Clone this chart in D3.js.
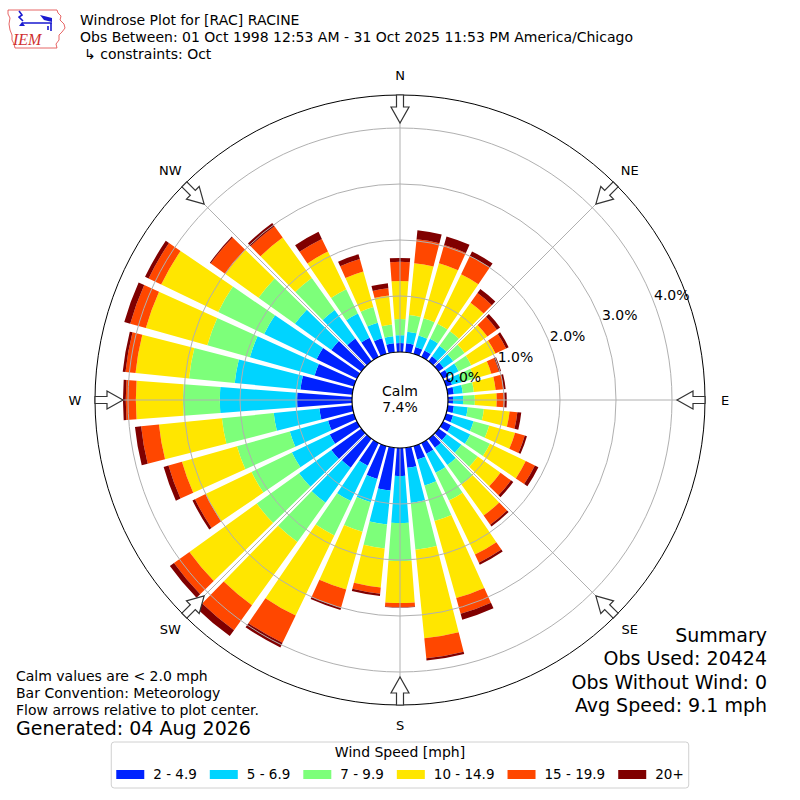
<!DOCTYPE html>
<html lang="en">
<head>
<meta charset="UTF-8">
<title>Windrose Plot for [RAC] RACINE</title>
<style>
  body { margin: 0; background: #fff; }
  svg { display: block; font-family: "DejaVu Sans", sans-serif; }
</style>
</head>
<body>
<script src="https://cdn.jsdelivr.net/npm/d3@7"></script>
<script>
// direction the wind blows from, degrees
const directions = [0, 10, 20, 30, 40, 50, 60, 70, 80, 90, 100, 110,
                    120, 130, 140, 150, 160, 170, 180, 190, 200, 210, 220, 230,
                    240, 250, 260, 270, 280, 290, 300, 310, 320, 330, 340, 350];

const speedBins = ["2 - 4.9", "5 - 6.9", "7 - 9.9", "10 - 14.9", "15 - 19.9", "20+"];
const binColors = ["#0022ff", "#00d4ff", "#7dff7a", "#ffe600", "#ff4700", "#800000"];

// percent of observations, one value per direction
const pct_2_5 = [0.16, 0.16, 0.13, 0.13, 0.11, 0.11, 0.11, 0.11, 0.11, 0.09, 0.11, 0.13,
                 0.16, 0.18, 0.20, 0.21, 0.25, 0.36, 0.50, 0.77, 0.61, 0.45, 0.64, 0.66,
                 0.54, 0.48, 0.59, 0.98, 0.93, 0.73, 0.80, 0.66, 0.50, 0.38, 0.29, 0.16];
const pct_5_7 = [0.14, 0.21, 0.21, 0.23, 0.23, 0.21, 0.20, 0.18, 0.16, 0.18, 0.25, 0.38,
                 0.38, 0.32, 0.38, 0.38, 0.48, 0.63, 0.84, 0.61, 0.43, 0.70, 0.77, 0.71,
                 0.75, 0.71, 0.82, 1.38, 1.18, 1.20, 1.04, 0.80, 0.63, 0.48, 0.29, 0.13];
const pct_7_10 = [0.29, 0.30, 0.32, 0.30, 0.32, 0.25, 0.25, 0.23, 0.20, 0.21, 0.29, 0.29,
                  0.39, 0.36, 0.43, 0.55, 0.66, 0.84, 0.68, 0.43, 0.55, 0.68, 0.86, 0.93,
                  0.80, 0.98, 0.93, 0.66, 0.82, 0.79, 0.91, 0.80, 0.70, 0.48, 0.29, 0.21];
const pct_10_15 = [0.68, 0.93, 1.02, 0.98, 0.63, 0.50, 0.48, 0.32, 0.39, 0.39, 0.46, 0.48,
                   0.71, 0.50, 0.68, 1.07, 1.43, 1.59, 0.75, 0.70, 1.07, 1.59, 1.39, 1.48,
                   0.91, 1.02, 1.13, 0.84, 0.96, 1.14, 1.13, 0.73, 0.89, 0.75, 0.66, 0.52];
const pct_15_20 = [0.34, 0.43, 0.34, 0.36, 0.21, 0.21, 0.21, 0.14, 0.14, 0.14, 0.14, 0.18,
                   0.18, 0.23, 0.20, 0.16, 0.29, 0.36, 0.07, 0.11, 0.34, 0.54, 0.55, 0.34,
                   0.21, 0.25, 0.32, 0.18, 0.18, 0.29, 0.25, 0.32, 0.25, 0.25, 0.23, 0.13];
const pct_20_up = [0.07, 0.16, 0.16, 0.09, 0.09, 0.07, 0.05, 0.04, 0.04, 0.04, 0.07, 0.04,
                   0.07, 0.05, 0.04, 0.04, 0.11, 0.04, 0.01, 0.04, 0.04, 0.09, 0.13, 0.09,
                   0.05, 0.09, 0.11, 0.05, 0.05, 0.11, 0.07, 0.02, 0.07, 0.14, 0.09, 0.09];
const speedSeries = [pct_2_5, pct_5_7, pct_7_10, pct_10_15, pct_15_20, pct_20_up];

const ringTicks = [0, 1, 2, 3, 4];
const compass = [["N", 0], ["NE", 45], ["E", 90], ["SE", 135],
                 ["S", 180], ["SW", 225], ["W", 270], ["NW", 315]];

const calmPct = "7.4%";
const titleLines = ["Windrose Plot for [RAC] RACINE",
                    "Obs Between: 01 Oct 1998 12:53 AM - 31 Oct 2025 11:53 PM America/Chicago",
                    "\u21b3 constraints: Oct"];
const summaryLines = ["Summary", "Obs Used: 20424", "Obs Without Wind: 0", "Avg Speed: 9.1 mph"];
const noteLines = ["Calm values are < 2.0 mph", "Bar Convention: Meteorology",
                   "Flow arrows relative to plot center."];
const generated = "Generated: 04 Aug 2026";

const width = 800, height = 800;
const cx = 400, cy = 400;
const holeR = 48, outerR = 305;
const halfWidth = 4.3;

const r = d3.scaleLinear().domain([0, 4]).range([holeR, 272]);
const angle = d3.scaleLinear().domain([0, 360]).range([0, 2 * Math.PI]);

const rows = directions.map((dir, i) => {
    const row = {dir};
    speedBins.forEach((b, k) => row[b] = speedSeries[k][i]);
    return row;
});
const series = d3.stack().keys(speedBins)(rows);

const svg = d3.select("body")
    .append("svg")
    .attr("width", width)
    .attr("height", height)
    .attr("viewBox", [0, 0, width, height]);

// --- header with logo ---
const logo = svg.append("g").attr("fill", "none");
logo.append("path")
    .attr("d", "M8,10 L57,10 L58,13 L61,16 L60,20 L64,24 L65,28 L62,32 L59,35 L59,40 L56,44 L57,48 L15,48 L14,44 L12,40 L12,35 L10,30 L9,24 L10,18 L8,14 Z")
    .attr("stroke", "#e04040").attr("stroke-width", 0.8);
logo.append("path")
    .attr("d", "M19,11 L22,15 L19,17 L23,21 M22,23 H52 M51,23 V31 M48,26 V30")
    .attr("stroke", "#1a1ad0").attr("stroke-width", 1.6);
logo.append("path")
    .attr("d", "M40,15 L52,18 L52,22 L44,20 Z M19,26 L22,22 L25,26 Z")
    .attr("fill", "#1a1ad0");
logo.append("text")
    .attr("x", 13).attr("y", 45)
    .attr("fill", "#d03030")
    .style("font", "italic 16px 'Liberation Serif', serif")
    .text("IEM");

svg.append("g")
    .style("font-size", "14px")
    .selectAll("text")
    .data(titleLines)
    .join("text")
    .attr("x", (d, i) => i === 2 ? 84 : 80)
    .attr("y", (d, i) => 25 + i * 17)
    .text(d => d);

// --- rose ---
const plot = svg.append("g").attr("transform", `translate(${cx},${cy})`);

const arc = d3.arc()
    .innerRadius(d => r(d[0]))
    .outerRadius(d => r(d[1]))
    .startAngle(d => angle(d.data.dir - halfWidth))
    .endAngle(d => angle(d.data.dir + halfWidth))
    .padAngle(0.01)
    .padRadius(100);

plot.append("g")
    .selectAll("g")
    .data(series)
    .join("g")
    .attr("fill", (d, i) => binColors[i])
    .selectAll("path")
    .data(d => d)
    .join("path")
    .attr("d", arc);

// grid drawn over the bars
const grid = plot.append("g")
    .attr("fill", "none")
    .attr("stroke", "#b0b0b0")
    .attr("stroke-width", 1);
grid.selectAll("circle")
    .data(ringTicks.slice(1))
    .join("circle")
    .attr("r", d => r(d));
grid.selectAll("line")
    .data(compass)
    .join("line")
    .attr("x1", d => d3.pointRadial(angle(d[1]), holeR)[0])
    .attr("y1", d => d3.pointRadial(angle(d[1]), holeR)[1])
    .attr("x2", d => d3.pointRadial(angle(d[1]), outerR)[0])
    .attr("y2", d => d3.pointRadial(angle(d[1]), outerR)[1]);

plot.append("circle")
    .attr("r", outerR)
    .attr("fill", "none")
    .attr("stroke", "#000")
    .attr("stroke-width", 1);

plot.append("circle")
    .attr("r", holeR)
    .attr("fill", "#fff")
    .attr("stroke", "#000")
    .attr("stroke-width", 1.2);

plot.append("text")
    .attr("text-anchor", "middle")
    .style("font-size", "14px")
    .selectAll("tspan")
    .data(["Calm", calmPct])
    .join("tspan")
    .attr("x", 0)
    .attr("y", (d, i) => -4 + i * 16)
    .text(d => d);

// percent labels along the ring
plot.append("g")
    .style("font-size", "14px")
    .selectAll("text")
    .data(ringTicks)
    .join("text")
    .attr("x", d => d3.pointRadial(angle(68.5), r(d) + 1)[0])
    .attr("y", d => d3.pointRadial(angle(68.5), r(d) + 1)[1])
    .text(d => d.toFixed(1) + "%");

// flow arrows pointing to the center
plot.append("g")
    .selectAll("path")
    .data(compass)
    .join("path")
    .attr("transform", d => `rotate(${d[1]})`)
    .attr("d", `M-3.5,${-outerR} L3.5,${-outerR} L3.5,-293 L9,-293 L0,-277 L-9,-293 L-3.5,-293 Z`)
    .attr("fill", "#fff")
    .attr("stroke", "#333")
    .attr("stroke-width", 1.2);

plot.append("g")
    .style("font-size", "13px")
    .attr("text-anchor", "middle")
    .selectAll("text")
    .data(compass)
    .join("text")
    .attr("x", d => d3.pointRadial(angle(d[1]), 325)[0])
    .attr("y", d => d3.pointRadial(angle(d[1]), 325)[1])
    .attr("dy", "0.36em")
    .text(d => d[0]);

// --- annotations ---
svg.append("g")
    .style("font-size", "19px")
    .attr("text-anchor", "end")
    .selectAll("text")
    .data(summaryLines)
    .join("text")
    .attr("x", 767)
    .attr("y", (d, i) => 642 + i * 23.3)
    .text(d => d);

svg.append("g")
    .style("font-size", "14px")
    .selectAll("text")
    .data(noteLines)
    .join("text")
    .attr("x", 16)
    .attr("y", (d, i) => 681 + i * 17)
    .text(d => d);

svg.append("text")
    .attr("x", 16)
    .attr("y", 735)
    .style("font-size", "19px")
    .text(generated);

// --- legend ---
const legend = svg.append("g");
const box = legend.append("rect")
    .attr("y", 742)
    .attr("height", 46)
    .attr("rx", 3)
    .attr("fill", "#fff")
    .attr("stroke", "#d0d0d0");

legend.append("text")
    .attr("x", 400)
    .attr("y", 757)
    .attr("text-anchor", "middle")
    .style("font-size", "14px")
    .text("Wind Speed [mph]");

const items = legend.append("g")
    .selectAll("g")
    .data(speedBins)
    .join("g");
items.append("rect")
    .attr("width", 28)
    .attr("height", 9)
    .attr("y", 770)
    .attr("fill", (d, i) => binColors[i]);
items.append("text")
    .attr("y", 779)
    .style("font-size", "13.5px")
    .text(d => d);

let xPos = 0;
const starts = [];
items.each(function() {
    starts.push(xPos);
    const w = d3.select(this).select("text").node().getComputedTextLength();
    xPos += 28 + 9 + w + 13;
});
const total = xPos - 13;
const x0 = 400 - total / 2;
items.each(function(d, i) {
    const g = d3.select(this);
    g.select("rect").attr("x", x0 + starts[i]);
    g.select("text").attr("x", x0 + starts[i] + 37);
});
box.attr("x", x0 - 5).attr("width", total + 10);
</script>
</body>
</html>
